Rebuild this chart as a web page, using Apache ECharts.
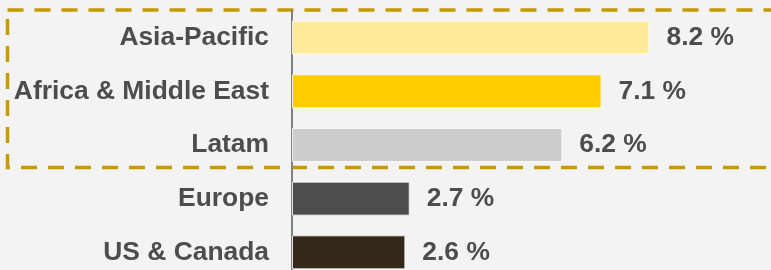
<!DOCTYPE html>
<html>
<head>
<meta charset="utf-8">
<script src="https://cdn.jsdelivr.net/npm/echarts@6/dist/echarts.min.js"></script>
<style>
  html, body { margin: 0; padding: 0; background: #f3f3f3; }
  #chart { width: 771px; height: 270px; }
</style>
</head>
<body>
<div id="chart"></div>
<script>
	var regions = ['Asia-Pacific', 'Africa & Middle East', 'Latam', 'Europe', 'US & Canada'];
	var growth = [8.2, 7.1, 6.2, 2.7, 2.6];
	var barColors = ['#ffeb99', '#ffcc00', '#cccccc', '#4d4d4d', '#33281a'];

	var textColor = '#4d4d4d';
	var fontFamily = 'Liberation Sans, Arial, sans-serif';

	var chart = echarts.init(document.getElementById('chart'));

	var barData = [];
	for (var i = 0; i < growth.length; i++) {
		barData.push({
			value: growth[i],
			itemStyle: { color: barColors[i] }
		});
	}

	var option = {
		backgroundColor: '#f3f3f3',
		animation: false,
		grid: {
			left: 292,
			top: 10.7,
			height: 268.5,
			width: 436,
			outerBoundsMode: 'none'
		},
		xAxis: {
			type: 'value',
			min: 0,
			max: 10,
			show: false
		},
		yAxis: {
			type: 'category',
			inverse: true,
			data: regions,
			axisLine: { show: true, lineStyle: { color: '#808080', width: 2 } },
			axisTick: { show: false },
			axisLabel: {
				margin: 23,
				color: textColor,
				fontSize: 26.4,
				fontWeight: 'bold',
				fontFamily: fontFamily
			}
		},
		series: [
			{
				type: 'bar',
				data: barData,
				barWidth: 34,
				itemStyle: { borderColor: 'rgba(255,255,255,0.8)', borderWidth: 1 },
				label: {
					show: true,
					position: 'right',
					distance: 17,
					formatter: function (p) { return p.value.toFixed(1) + ' %'; },
					color: textColor,
					fontSize: 26.4,
					fontWeight: 'bold',
					fontFamily: fontFamily
				}
			}
		],
		// dashed highlight box around the top three regions
		graphic: [
			{
				type: 'rect',
				z: -1,
				silent: true,
				shape: { x: 7.5, y: 10, width: 800, height: 157.5 },
				style: {
					fill: 'none',
					stroke: '#c49a00',
					lineWidth: 3.5,
					lineDash: [16, 11]
				}
			}
		]
	};

	chart.setOption(option);
</script>
</body>
</html>
